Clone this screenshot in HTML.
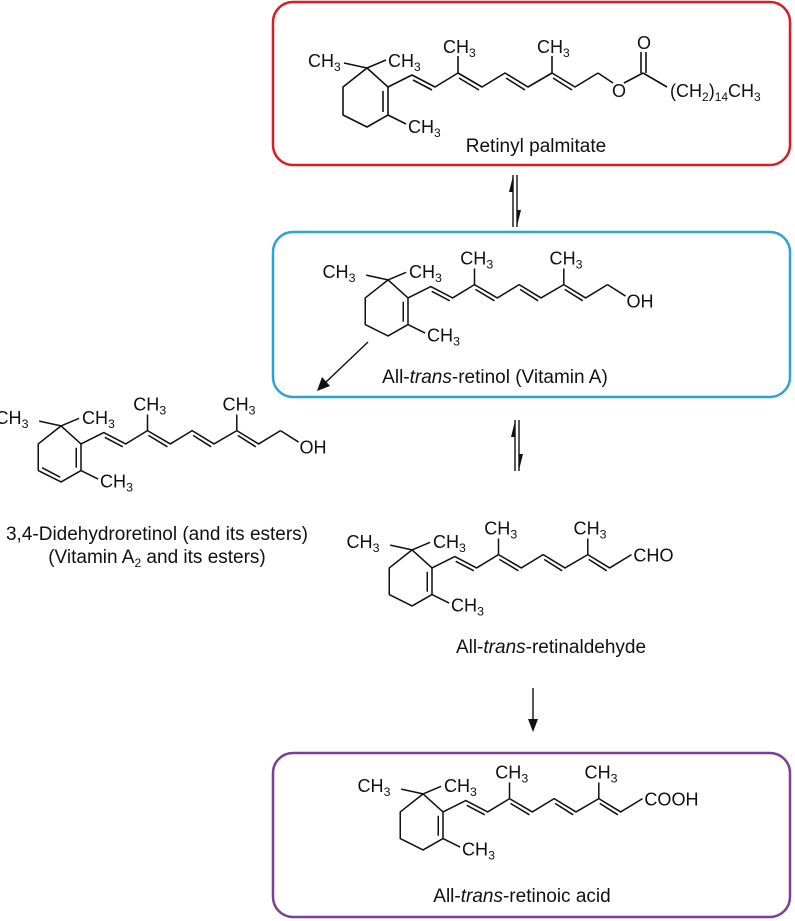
<!DOCTYPE html>
<html><head><meta charset="utf-8"><style>
body{margin:0;background:#fff;}
svg{display:block;font-family:"Liberation Sans",Arial,sans-serif;}
text{fill:#111;font-size:18px;}
.m text{font-size:19px;}
.s{font-size:12px;}
.m .s{font-size:13px;}
.lb{font-size:19px;}
</style></head><body>
<svg width="795" height="921" viewBox="0 0 795 921" xmlns="http://www.w3.org/2000/svg">
<defs>
<g id="sk" stroke="#111" stroke-width="1.6" fill="none" stroke-linejoin="round">
  <polyline points="367,68 388,87 388,115 367,127 343,115 343,87 367,68"/>
  <line x1="383" y1="91" x2="383" y2="112"/>
  <line x1="367" y1="68" x2="344" y2="63"/>
  <line x1="367" y1="68" x2="386" y2="60"/>
  <line x1="388" y1="115" x2="406" y2="124"/>
  <polyline points="388,87 412,75 435,87 458,73 482,87 505,73 528,87 552,73 575,87 598,73"/>
  <line x1="458" y1="73" x2="458" y2="56"/>
  <line x1="552" y1="73" x2="552" y2="56"/>
  <line x1="413" y1="80" x2="432" y2="90"/>
  <line x1="459" y1="78" x2="479" y2="90"/>
  <line x1="506" y1="78" x2="525" y2="90"/>
  <line x1="553" y1="78" x2="572" y2="90"/>
</g>
</defs>

<rect x="273" y="2" width="517" height="163" rx="20" fill="none" stroke="#d81e22" stroke-width="2.5"/>
<rect x="273" y="232" width="517" height="165" rx="20" fill="none" stroke="#2aa4d5" stroke-width="2.5"/>
<rect x="273" y="753" width="517" height="164" rx="20" fill="none" stroke="#7b3f98" stroke-width="2.5"/>

<!-- Mol 1 -->
<g>
<use href="#sk"/>
<g stroke="#111" stroke-width="1.6" fill="none">
<line x1="598" y1="73" x2="613" y2="83"/>
<line x1="624" y1="83" x2="643" y2="73"/>
<line x1="643" y1="73" x2="667" y2="87"/>
<line x1="641" y1="73" x2="641" y2="52"/>
<line x1="646" y1="73" x2="646" y2="52"/>
</g>
<text x="308" y="67">CH<tspan class="s" dy="4">3</tspan></text>
<text x="388" y="67">CH<tspan class="s" dy="4">3</tspan></text>
<text x="408" y="133">CH<tspan class="s" dy="4">3</tspan></text>
<text x="443" y="53">CH<tspan class="s" dy="4">3</tspan></text>
<text x="537" y="53">CH<tspan class="s" dy="4">3</tspan></text>
<text x="612" y="97">O</text>
<text x="637" y="49">O</text>
<text x="670" y="97">(CH<tspan class="s" dy="4">2</tspan><tspan dy="-4">)</tspan><tspan class="s" dy="4">14</tspan><tspan dy="-4">CH</tspan><tspan class="s" dy="4">3</tspan></text>
<text x="536" y="152" text-anchor="middle" class="lb">Retinyl palmitate</text>
</g>

<!-- Mol 2 retinol -->
<g class="m" transform="translate(39.4,215.3) scale(0.95)">
<use href="#sk"/>
<line x1="598" y1="73" x2="617" y2="85" stroke="#111" stroke-width="1.6"/>
<text x="298" y="66">CH<tspan class="s" dy="4">3</tspan></text>
<text x="389" y="66">CH<tspan class="s" dy="4">3</tspan></text>
<text x="408" y="133">CH<tspan class="s" dy="4">3</tspan></text>
<text x="443" y="52">CH<tspan class="s" dy="4">3</tspan></text>
<text x="537" y="52">CH<tspan class="s" dy="4">3</tspan></text>
<text x="618" y="97">OH</text>
</g>
<text x="495" y="383" text-anchor="middle" class="lb">All-<tspan font-style="italic">trans</tspan>-retinol (Vitamin A)</text>

<!-- Mol 3 -->
<g class="m" transform="translate(-287.6,361.3) scale(0.95)">
<use href="#sk"/>
<line x1="347" y1="112" x2="366" y2="122" stroke="#111" stroke-width="1.6"/>
<line x1="598" y1="73" x2="617" y2="85" stroke="#111" stroke-width="1.6"/>
<text x="298" y="66">CH<tspan class="s" dy="4">3</tspan></text>
<text x="389" y="66">CH<tspan class="s" dy="4">3</tspan></text>
<text x="408" y="133">CH<tspan class="s" dy="4">3</tspan></text>
<text x="443" y="52">CH<tspan class="s" dy="4">3</tspan></text>
<text x="537" y="52">CH<tspan class="s" dy="4">3</tspan></text>
<text x="618" y="97">OH</text>
</g>
<text x="157" y="540" text-anchor="middle" class="lb">3,4-Didehydroretinol (and its esters)</text>
<text x="157" y="563" text-anchor="middle" class="lb">(Vitamin A<tspan class="s" dy="4">2</tspan><tspan dy="-4"> and its esters)</tspan></text>

<!-- Mol 4 -->
<g class="m" transform="translate(63.4,485.3) scale(0.95)">
<use href="#sk"/>
<text x="298" y="66">CH<tspan class="s" dy="4">3</tspan></text>
<text x="389" y="66">CH<tspan class="s" dy="4">3</tspan></text>
<text x="408" y="133">CH<tspan class="s" dy="4">3</tspan></text>
<text x="443" y="52">CH<tspan class="s" dy="4">3</tspan></text>
<text x="537" y="52">CH<tspan class="s" dy="4">3</tspan></text>
<text x="600" y="80">CHO</text>
</g>
<text x="551" y="653" text-anchor="middle" class="lb">All-<tspan font-style="italic">trans</tspan>-retinaldehyde</text>

<!-- Mol 5 -->
<g class="m" transform="translate(74.4,729.3) scale(0.95)">
<use href="#sk"/>
<text x="298" y="66">CH<tspan class="s" dy="4">3</tspan></text>
<text x="389" y="66">CH<tspan class="s" dy="4">3</tspan></text>
<text x="408" y="133">CH<tspan class="s" dy="4">3</tspan></text>
<text x="443" y="52">CH<tspan class="s" dy="4">3</tspan></text>
<text x="537" y="52">CH<tspan class="s" dy="4">3</tspan></text>
<text x="600" y="80">COOH</text>
</g>
<text x="522" y="902" text-anchor="middle" class="lb">All-<tspan font-style="italic">trans</tspan>-retinoic acid</text>

<!-- arrows -->
<g stroke="#111" stroke-width="1.4" fill="none">
<line x1="517" y1="175" x2="517" y2="227"/>
<line x1="513" y1="175" x2="513" y2="227"/>
<line x1="519" y1="420" x2="519" y2="471"/>
<line x1="515" y1="420" x2="515" y2="471"/>
<line x1="368" y1="342" x2="325" y2="383"/>
<line x1="533" y1="688" x2="533" y2="722"/>
</g>
<polygon points="513,176 513,192 509,192" fill="#111"/>
<polygon points="517,226 517,210 521,210" fill="#111"/>
<polygon points="515,421 515,437 511,437" fill="#111"/>
<polygon points="519,470 519,454 523,454" fill="#111"/>
<polygon points="317,391 322,377 330,386" fill="#111"/>
<polygon points="533,732 528,719 538,719" fill="#111"/>
</svg>
</body></html>
